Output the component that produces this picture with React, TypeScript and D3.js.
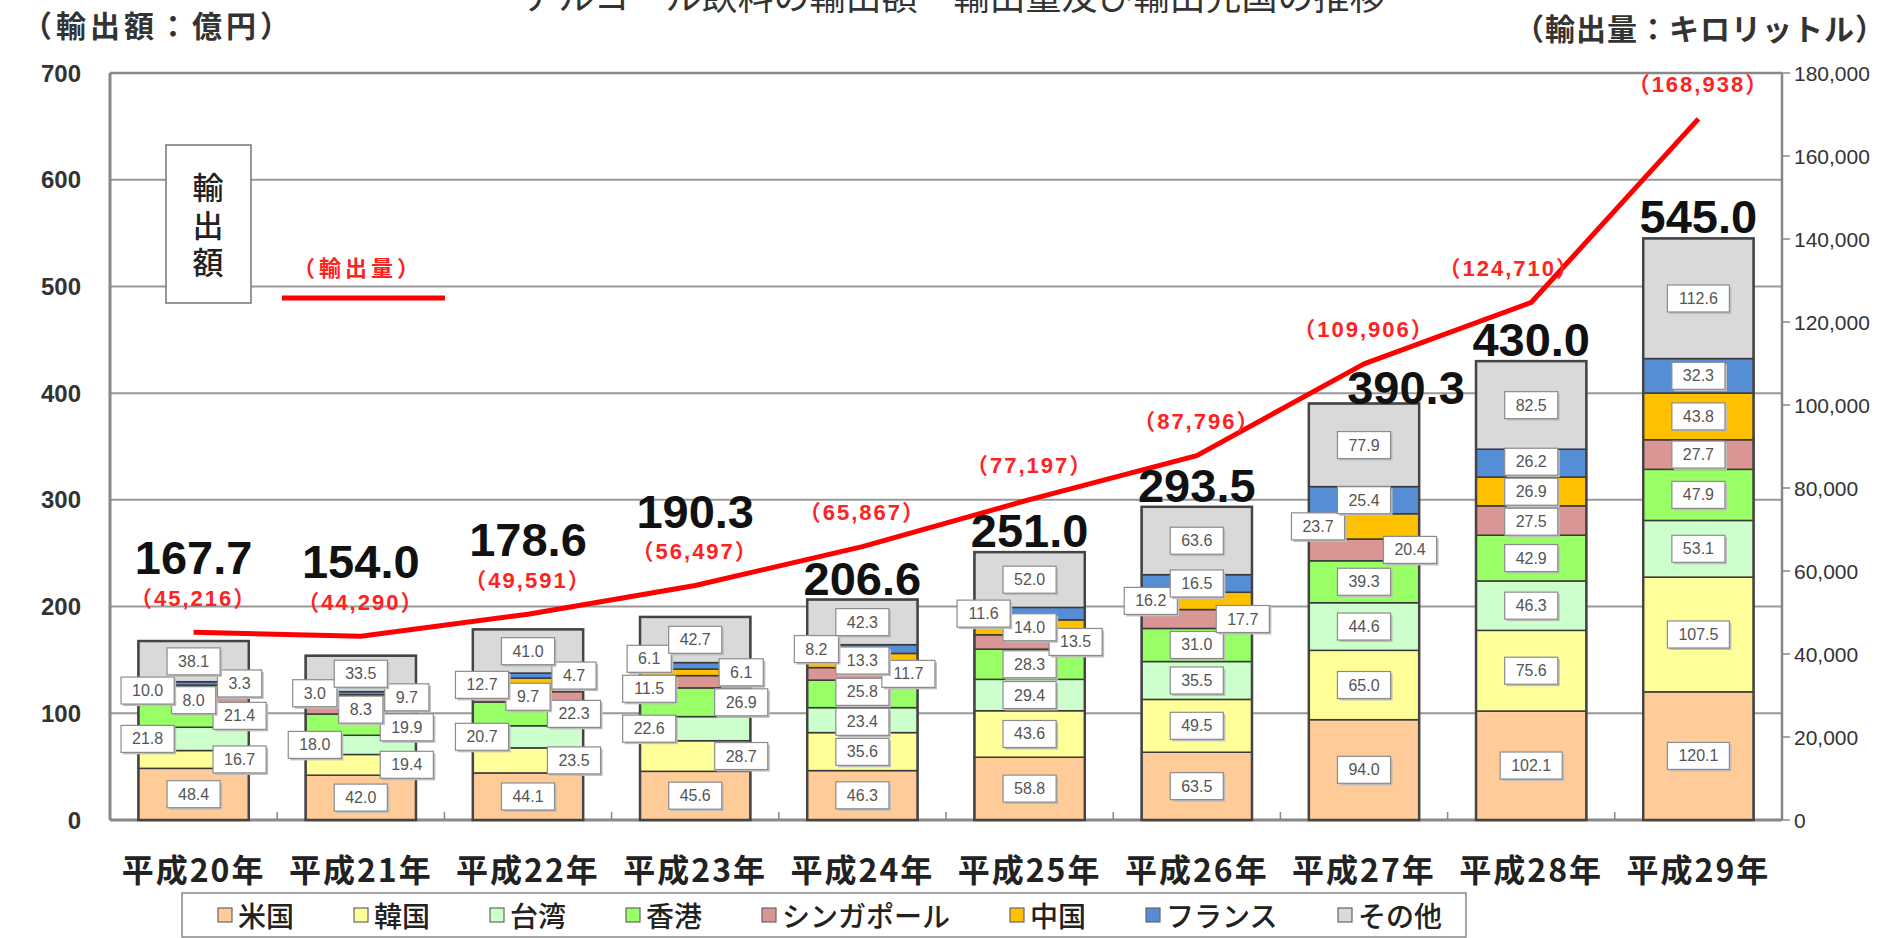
import React from 'react';
import * as d3 from 'd3';

// 年（カテゴリ）
const years = ['平成20年', '平成21年', '平成22年', '平成23年', '平成24年', '平成25年', '平成26年', '平成27年', '平成28年', '平成29年'];
const series = ['米国', '韓国', '台湾', '香港', 'シンガポール', '中国', 'フランス', 'その他'];
const colors = ['#FFCC99', '#FFFF99', '#CCFFCC', '#99FF66', '#D99694', '#FFC000', '#558ED5', '#D9D9D9'];

// 輸出額（億円）
const usa = [48.4, 42.0, 44.1, 45.6, 46.3, 58.8, 63.5, 94.0, 102.1, 120.1];
const korea = [16.7, 19.4, 23.5, 28.7, 35.6, 43.6, 49.5, 65.0, 75.6, 107.5];
const taiwan = [21.8, 18.0, 20.7, 22.6, 23.4, 29.4, 35.5, 44.6, 46.3, 53.1];
const hongkong = [21.4, 19.9, 22.3, 26.9, 25.8, 28.3, 31.0, 39.3, 42.9, 47.9];
const singapore = [8.0, 8.3, 9.7, 11.5, 11.7, 13.5, 17.7, 20.4, 27.5, 27.7];
const china = [10.0, 9.7, 12.7, 6.1, 13.3, 14.0, 16.2, 23.7, 26.9, 43.8];
const france = [3.3, 3.0, 4.7, 6.1, 8.2, 11.6, 16.5, 25.4, 26.2, 32.3];
const others = [38.1, 33.5, 41.0, 42.7, 42.3, 52.0, 63.6, 77.9, 82.5, 112.6];
const totals = [167.7, 154.0, 178.6, 190.3, 206.6, 251.0, 293.5, 390.3, 430.0, 545.0];

// 輸出量（キロリットル）
const volume = [45216, 44290, 49591, 56497, 65867, 77197, 87796, 109906, 124710, 168938];

const seriesValues = [usa, korea, taiwan, hongkong, singapore, china, france, others];

// which side of the bar each value label sits on (c = centre, l = left, r = right)
const labelSide = [
  'crlrclrc',
  'crlrcrlc',
  'crlrclrc',
  'crlrlrlc',
  'ccccrclc',
  'ccccrclc',
  'ccccrlcc',
  'ccccrlcc',
  'cccccccc',
  'cccccccc',
];

const JP = "'Noto Sans CJK JP', sans-serif";
const NUM = "'Liberation Sans', Arial, 'Noto Sans CJK JP', sans-serif";

const plot = { left: 110, right: 1782, top: 73, bottom: 820 };

export default function App() {
  const x = d3.scaleBand<string>().domain(years).range([plot.left, plot.right]).paddingInner(0.34).paddingOuter(0.17);
  const y = d3.scaleLinear().domain([0, 700]).range([plot.bottom, plot.top]);
  const y2 = d3.scaleLinear().domain([0, 180000]).range([plot.bottom, plot.top]);
  const bw = x.bandwidth();
  const cx = (i: number) => (x(years[i]) as number) + bw / 2;

  const rows = years.map((yr, i) => {
    const r: Record<string, number> = {};
    series.forEach((s, k) => { r[s] = seriesValues[k][i]; });
    return r;
  });
  const stacked = d3.stack<Record<string, number>>().keys(series)(rows);

  const fmt1 = d3.format('.1f');
  const fmtC = d3.format(',');

  const line = d3.line<number>()
    .x((d, i) => cx(i))
    .y(d => y2(d));

  // value label layout per bar
  const minGap = 30, sideOff = 46;
  const barLabels = years.map((yr, i) => {
    const items = series.map((s, k) => {
      const seg = stacked[k][i];
      const side = labelSide[i][k];
      return {
        k, side,
        text: fmt1(seriesValues[k][i]),
        x: cx(i) + (side === 'l' ? -sideOff : side === 'r' ? sideOff : 0),
        y: (y(seg[0]) + y(seg[1])) / 2,
      };
    });
    ['l', 'c', 'r'].forEach(sd => {
      const col = items.filter(d => d.side === sd).sort((a, b) => a.y - b.y);
      for (let it = 0; it < 60; it++) {
        for (let j = 1; j < col.length; j++) {
          const gap = col[j].y - col[j - 1].y;
          if (gap < minGap) {
            const o = (minGap - gap) / 2;
            col[j - 1].y -= o;
            col[j].y += o;
          }
        }
      }
    });
    return items;
  });

  // legend layout
  const legFont = 28;
  let lx = 218;
  const legendItems = series.map((s, k) => {
    const it = { s, k, x: lx };
    lx += 20 + s.length * legFont + 60;
    return it;
  });

  const step = x.step();

  return (
    <div style={{ position: 'absolute', left: 0, top: 0 }}>
      <svg width={1900} height={938} style={{ display: 'block', background: '#fff' }}>
        {/* title (cut at top) */}
        <text x={954} y={10} textAnchor="middle" fontFamily={JP} fontSize={36} fill="#333">
          アルコール飲料の輸出額・輸出量及び輸出先国の推移
        </text>
        <text x={22} y={24} dominantBaseline="central" fontFamily={JP} fontSize={30} fontWeight={700} fill="#333" letterSpacing={4}>
          （輸出額：億円）
        </text>
        <text x={1886} y={27} textAnchor="end" dominantBaseline="central" fontFamily={JP} fontSize={30} fontWeight={700} fill="#333" letterSpacing={1}>
          （輸出量：キロリットル）
        </text>

        {/* gridlines */}
        {y.ticks(7).filter(t => t > 0 && t < 700).map(t => (
          <line key={t} x1={plot.left} x2={plot.right} y1={y(t)} y2={y(t)} stroke="#999" strokeWidth={2} />
        ))}

        {/* frame */}
        <line x1={plot.left} x2={plot.right} y1={plot.top} y2={plot.top} stroke="#888" strokeWidth={2.5} />
        <line x1={plot.left} x2={plot.left} y1={plot.top} y2={plot.bottom} stroke="#888" strokeWidth={3} />
        <line x1={plot.right} x2={plot.right} y1={plot.top} y2={plot.bottom} stroke="#888" strokeWidth={2.5} />
        <line x1={plot.left} x2={plot.right} y1={plot.bottom} y2={plot.bottom} stroke="#888" strokeWidth={3} />

        {/* left axis */}
        {y.ticks(7).map(t => (
          <text key={t} x={81} y={y(t)} textAnchor="end" dominantBaseline="central" fontFamily={NUM} fontWeight={700} fontSize={24} fill="#333">{t}</text>
        ))}

        {/* right axis */}
        {y2.ticks(9).map(t => (
          <g key={t}>
            <line x1={plot.right} x2={plot.right + 8} y1={y2(t)} y2={y2(t)} stroke="#888" strokeWidth={1.5} />
            <text x={1794} y={y2(t)} dominantBaseline="central" fontFamily={NUM} fontSize={21} fill="#333">{fmtC(t)}</text>
          </g>
        ))}

        {/* bottom ticks between bars */}
        {years.slice(1).map((yr) => {
          const bx = (x(yr) as number) - (step - bw) / 2;
          return <line key={yr} x1={bx} x2={bx} y1={plot.bottom} y2={plot.bottom - 8} stroke="#888" strokeWidth={1.5} />;
        })}

        {/* x labels */}
        {years.map((yr, i) => (
          <text key={yr} x={cx(i)} y={868} textAnchor="middle" dominantBaseline="central" fontFamily={JP} fontWeight={700} fontSize={32} letterSpacing={2} fill="#222">{yr}</text>
        ))}

        {/* 輸出額 box */}
        <rect x={166} y={145} width={85} height={158} fill="#fff" stroke="#777" strokeWidth={1.5} />
        <text x={208} y={172} writingMode="vertical-rl" fontFamily={JP} fontSize={31} fontWeight={500} letterSpacing={6.5} fill="#222">輸出額</text>

        {/* line legend */}
        <text x={358} y={266} textAnchor="middle" dominantBaseline="central" fontFamily={JP} fontSize={22} fontWeight={700} fill="#ff2020" letterSpacing={4}>（輸出量）</text>
        <line x1={282} x2={445} y1={298} y2={298} stroke="#ff0000" strokeWidth={5} />

        {/* stacked bars */}
        {stacked.map((layer, k) => (
          <g key={series[k]}>
            {layer.map((d, i) => (
              <rect key={i} x={x(years[i]) as number} width={bw} y={y(d[1])} height={y(d[0]) - y(d[1])}
                fill={colors[k]} stroke="#3a3a3a" strokeWidth={1.5} />
            ))}
          </g>
        ))}
        {years.map((yr, i) => (
          <rect key={yr} x={x(yr) as number} width={bw} y={y(totals[i])} height={y(0) - y(totals[i])} fill="none" stroke="#444" strokeWidth={2.5} />
        ))}

        {/* value labels */}
        {barLabels.map((items, i) => (
          <g key={i}>
            {items.map(d => {
              const w = d.text.replace('.', '').length * 8.9 + 4.4 + 22;
              return (
                <g key={d.k}>
                  <rect x={d.x - w / 2 + 2} y={d.y - 13.5 + 2} width={w} height={27} fill="#bdbdbd" />
                  <rect x={d.x - w / 2} y={d.y - 13.5} width={w} height={27} fill="#fff" stroke="#8c8c8c" strokeWidth={1.2} />
                  <text x={d.x} y={d.y} textAnchor="middle" dominantBaseline="central" fontFamily={NUM} fontSize={16} fill="#555">{d.text}</text>
                </g>
              );
            })}
          </g>
        ))}

        {/* export volume line */}
        <path d={line(volume) as string} fill="none" stroke="#ff0000" strokeWidth={5} strokeLinejoin="round" />

        {/* totals and volume labels */}
        {years.map((yr, i) => {
          const ly = y2(volume[i]);
          const top = y(totals[i]);
          const above = top - ly < 35;
          const tight = !above && top - ly < 45;
          const redY = ly - 34;
          const totY = above ? redY - 24 : tight ? top + 1 : top - 5;
          const totDx = tight ? 42 : 0;
          const rise = i < years.length - 1 ? ly - y2(volume[i + 1]) : 0;
          const dx = rise > 150 ? -22 : 0;
          return (
            <g key={yr}>
              <text x={cx(i) + dx} y={redY} textAnchor="middle" dominantBaseline="central" fontFamily={NUM} fontWeight={700} fontSize={22} letterSpacing={2} fill="#ff2222">
                {'（' + fmtC(volume[i]) + '）'}
              </text>
              <text x={cx(i) + totDx} y={totY} textAnchor="middle" fontFamily={NUM} fontWeight={700} fontSize={47} fill="#111">
                {fmt1(totals[i])}
              </text>
            </g>
          );
        })}

        {/* legend */}
        <rect x={182} y={893} width={1284} height={44} fill="#fff" stroke="#888" strokeWidth={1.5} />
        {legendItems.map(it => (
          <g key={it.s}>
            <rect x={it.x} y={908} width={14} height={14} fill={colors[it.k]} stroke="#666" strokeWidth={1.2} />
            <text x={it.x + 20} y={915} dominantBaseline="central" fontFamily={JP} fontSize={legFont} fontWeight={500} fill="#222">{it.s}</text>
          </g>
        ))}
      </svg>
    </div>
  );
}
